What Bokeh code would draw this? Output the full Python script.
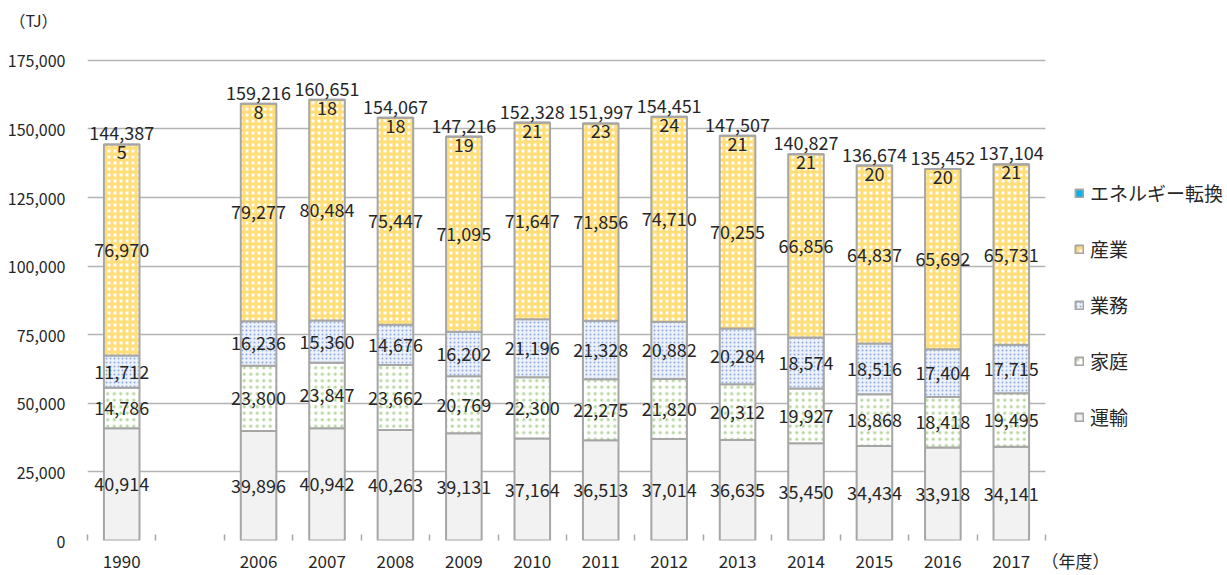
from bokeh.plotting import figure
from bokeh.models import (ColumnDataSource, Range1d, FixedTicker, NumeralTickFormatter,
                          Legend, LegendItem, Grid)
from bokeh.core.properties import value
from bokeh.embed import file_html
from bokeh.resources import INLINE
import numpy as np

# ---- data ----
slots = ["1990", "", "2006", "2007", "2008", "2009", "2010", "2011", "2012",
         "2013", "2014", "2015", "2016", "2017"]
years = ["1990", "2006", "2007", "2008", "2009", "2010", "2011", "2012",
         "2013", "2014", "2015", "2016", "2017"]
transport = [40914, 39896, 40942, 40263, 39131, 37164, 36513, 37014, 36635, 35450, 34434, 33918, 34141]
household = [14786, 23800, 23847, 23662, 20769, 22300, 22275, 21820, 20312, 19927, 18868, 18418, 19495]
business = [11712, 16236, 15360, 14676, 16202, 21196, 21328, 20882, 20284, 18574, 18516, 17404, 17715]
industry = [76970, 79277, 80484, 75447, 71095, 71647, 71856, 74710, 70255, 66856, 64837, 65692, 65731]
energy = [5, 8, 18, 18, 19, 21, 23, 24, 21, 21, 20, 20, 21]
totals = [144387, 159216, 160651, 154067, 147216, 152328, 151997, 154451, 147507, 140827, 136674, 135452, 137104]
series_names = ["運輸", "家庭", "業務", "産業", "エネルギー転換"]
y_ticks = [0, 25000, 50000, 75000, 100000, 125000, 150000, 175000]
y_unit = "（TJ）"
x_unit = "（年度）"

FONT = "Noto Sans CJK JP"
TXT = "#262626"
GRAY = "#A6A6A6"
GRID = "#B3B3B3"

# ---- layout (pixels) ----
W, H = 1227, 575
FL, FR, FT, FB = 87, 1045, 60, 541          # desired plot-area box of the axes
slot_px = (FR - FL) / len(slots)
x_start = -0.5
x_end = x_start + (W - FL) / slot_px        # frame extended to the right edge (legend room)
y_top = 175000
y_end = y_top * FB / (FB - FT)              # frame extended to the top edge (unit label room)
tj_y = y_top * (FB - 20) / (FB - FT)        # unit label position on the value axis
nendo_x = x_start + (1075 - FL) / slot_px   # unit label position on the category axis

xs = [slots.index(y) for y in years]
src = ColumnDataSource(dict(x=xs, t=transport, h=household, b=business, i=industry, e=energy))

p = figure(width=W, height=H, output_backend="svg", toolbar_location=None,
           x_range=Range1d(x_start, x_end), y_range=Range1d(0, y_end),
           min_border_left=FL, min_border_right=0, min_border_top=0, min_border_bottom=H - FB)
p.outline_line_color = None
p.background_fill_color = "white"
p.border_fill_color = "white"

# grid lines limited to the chart area
p.xgrid.grid_line_color = None
p.ygrid.ticker = FixedTicker(ticks=y_ticks)
p.ygrid.grid_line_color = GRID
p.ygrid.grid_line_width = 1.5
p.ygrid.cross_bounds = (x_start, len(slots) - 0.5)
left_rule = Grid(dimension=0, ticker=FixedTicker(ticks=[x_start]), grid_line_color=GRAY,
                 grid_line_width=1.5, cross_bounds=(0, y_top))
p.add_layout(left_rule)

renderers = p.vbar_stack(["t", "h", "b", "i", "e"], x="x", width=0.52, source=src,
                         fill_color=["#F2F2F2", "white", "#EDF1F9", "white", "#00B0F0"],
                         hatch_pattern=[" ", "dot", "dot", "cross", " "],
                         hatch_color=["white", "#B5D69C", "#8FAADC", "#FFDD77", "white"],
                         hatch_scale=[6, 6.5, 4, 6, 6],
                         hatch_weight=[1, 3.2, 1, 3, 1],
                         line_color=[GRAY, GRAY, GRAY, GRAY, GRAY], line_width=2)

# segment labels
cols = [transport, household, business, industry]
base = np.zeros(len(years))
for vals in cols:
    v = np.array(vals, dtype=float)
    mid = base + v / 2
    p.text(x=xs, y=list(mid), text=[f"{int(a):,}" for a in vals],
           text_font=value(FONT), text_font_size="18px", text_color=TXT,
           text_align="center", text_baseline="middle")
    base = base + v

# energy conversion labels (at top of bar)
p.text(x=xs, y=totals, text=[f"{a:,}" for a in energy], text_font=value(FONT),
       text_font_size="18px", text_color=TXT, text_align="center", text_baseline="top", y_offset=1)
# totals
p.text(x=xs, y=totals, text=[f"{a:,}" for a in totals], text_font=value(FONT),
       text_font_size="18px", text_color=TXT, text_align="center", text_baseline="bottom", y_offset=-4)

# x axis: labels at centres, small ticks at category boundaries
x_label_pos = list(range(len(slots))) + [nendo_x]
p.xaxis.ticker = FixedTicker(ticks=x_label_pos,
                             minor_ticks=[k - 0.5 for k in range(len(slots) + 1)])
ov = {k: s for k, s in enumerate(slots)}
ov[nendo_x] = x_unit
p.xaxis.major_label_overrides = ov
p.xaxis.major_tick_line_color = None
p.xaxis.major_tick_out = 0
p.xaxis.major_tick_in = 0
p.xaxis.minor_tick_in = 6
p.xaxis.minor_tick_out = 0
p.xaxis.minor_tick_line_color = GRAY
p.xaxis.minor_tick_line_width = 1.5
p.xaxis.axis_line_color = None
p.xaxis.major_label_text_font = FONT
p.xaxis.major_label_text_font_size = "17px"
p.xaxis.major_label_text_color = TXT
p.xaxis.major_label_standoff = 7

# y axis
p.yaxis.ticker = FixedTicker(ticks=y_ticks + [tj_y])
p.yaxis.formatter = NumeralTickFormatter(format="0,0")
p.yaxis.major_label_overrides = {tj_y: y_unit + "\u3000"}
p.yaxis.major_tick_line_color = None
p.yaxis.major_tick_out = 0
p.yaxis.major_tick_in = 0
p.yaxis.minor_tick_line_color = None
p.yaxis.minor_tick_out = 0
p.yaxis.axis_line_color = None
p.yaxis.major_label_text_font = FONT
p.yaxis.major_label_text_font_size = "16px"
p.yaxis.major_label_text_color = TXT
p.yaxis.major_label_standoff = 22

# legend (top to bottom reversed stack order)
items = [LegendItem(label=series_names[k], renderers=[renderers[k]]) for k in range(4, -1, -1)]
legend = Legend(items=items, location=(1074 - FL, 110), glyph_width=10, glyph_height=10,
                label_text_font=FONT, label_text_font_size="19px", label_text_color=TXT,
                label_height=20, spacing=29, padding=10, label_standoff=6,
                border_line_color=None, background_fill_alpha=0)
p.add_layout(legend, "center")

open("out.html", "w").write(file_html(p, INLINE))
